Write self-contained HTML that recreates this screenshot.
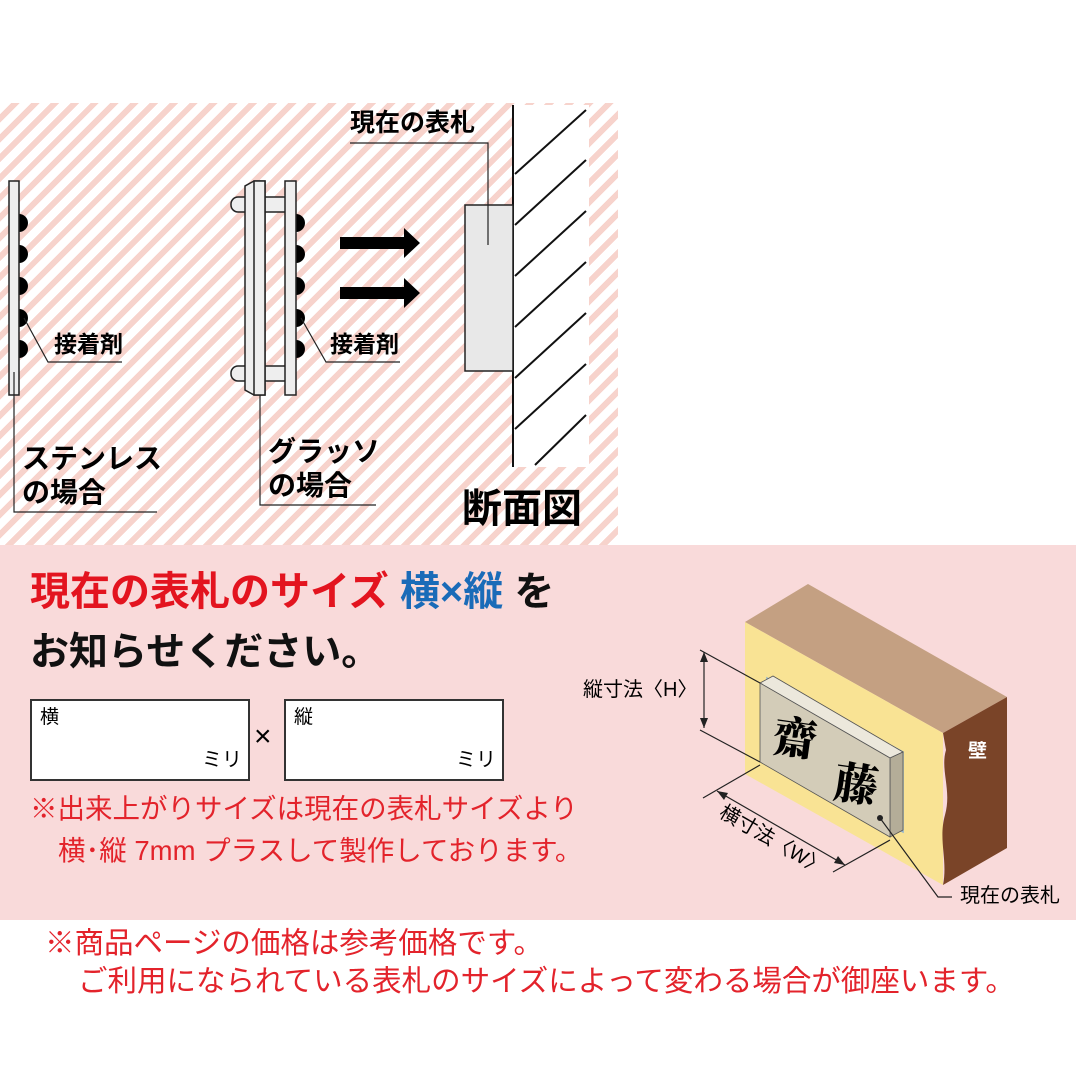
<!DOCTYPE html>
<html><head><meta charset="utf-8"><style>
html,body{margin:0;padding:0}
body{width:1076px;height:1076px;position:relative;background:#fff;overflow:hidden;font-family:"Liberation Sans","Noto Sans CJK JP",sans-serif}
.t{position:absolute;white-space:nowrap;line-height:1}
.stripes{position:absolute;left:0;top:103px;width:618px;height:442px;background:repeating-linear-gradient(135deg,#fff 0 8px,#f7d3cc 8px 14px)}
.pink{position:absolute;left:0;top:545px;width:1076px;height:375px;background:#f9dada}
.box{position:absolute;border:2px solid #333;background:#fff}
</style></head><body>
<div class="stripes"></div>
<div class="pink"></div>
<svg width="1076" height="1076" style="position:absolute;left:0;top:0">
<!-- stainless -->
<g fill="#000"><circle cx="19" cy="223" r="9"/><circle cx="19" cy="254" r="9"/><circle cx="19" cy="286" r="9"/><circle cx="19" cy="318" r="9"/><circle cx="19" cy="349" r="9"/></g>
<rect x="9" y="181" width="10" height="214" fill="#eee" stroke="#222" stroke-width="1.5"/>
<polyline points="24,318 48,362 122,362" fill="none" stroke="#222" stroke-width="1.2"/>
<polyline points="14,372 14,512 157,512" fill="none" stroke="#222" stroke-width="1.2"/>
<!-- glasso -->
<g fill="#eee" stroke="#222" stroke-width="1.5">
<rect x="231" y="197" width="60" height="15" rx="7"/>
<rect x="231" y="366" width="60" height="15" rx="7"/>
</g>
<g fill="#000"><circle cx="296" cy="223" r="9"/><circle cx="296" cy="254" r="9"/><circle cx="296" cy="286" r="9"/><circle cx="296" cy="318" r="9"/><circle cx="296" cy="349" r="9"/></g>
<g fill="#eee" stroke="#222" stroke-width="1.5">
<polygon points="254,181 265,181 265,395 254,395 245,390 245,186"/>
<rect x="254" y="181" width="11" height="214"/>
<rect x="285" y="181" width="11" height="214"/>
</g>
<polyline points="301,318 326,362 400,362" fill="none" stroke="#222" stroke-width="1.2"/>
<polyline points="260,395 260,505 376,505" fill="none" stroke="#222" stroke-width="1.2"/>
<!-- arrows -->
<polygon points="340,237 404,237 404,228 420,243 404,258 404,249 340,249" fill="#000"/>
<polygon points="340,287 404,287 404,278 420,293 404,308 404,299 340,299" fill="#000"/>
<!-- wall section -->
<rect x="513" y="105" width="76" height="362" fill="#fff"/>
<g stroke="#111" stroke-width="2">
<line x1="513" y1="105" x2="513" y2="467"/>
<line x1="515" y1="174" x2="586" y2="110"/>
<line x1="515" y1="225" x2="586" y2="160"/>
<line x1="515" y1="276" x2="586" y2="211"/>
<line x1="515" y1="327" x2="586" y2="262"/>
<line x1="515" y1="378" x2="586" y2="313"/>
<line x1="515" y1="429" x2="586" y2="364"/>
<line x1="535" y1="465" x2="586" y2="415"/>
</g>
<rect x="465" y="205" width="48" height="166" fill="#e8e8e8" stroke="#222" stroke-width="1.5"/>
<polyline points="488,245 488,143 350,143" fill="none" stroke="#222" stroke-width="1.2"/>
<!-- illustration -->
<polygon points="745,622 808,584 1007,697 943,733" fill="#c4a082"/>
<polygon points="745,622 943,733 943,885 745,774" fill="#f9e394"/>
<path d="M943,733 L1007,697 L1007,848 L943,885 C948,860 938,840 945,815 C952,790 940,770 946,750 Z" fill="#7a4428"/>
<polygon points="767,678 903,752 903,832 767,758" fill="#dfe9f0" stroke="#8fb3cf" stroke-width="1.5"/>
<polygon points="760,683 773,676 903,752 890,758" fill="#ece8dc" stroke="#555" stroke-width="0.8"/>
<polygon points="890,758 903,752 903,830 890,837" fill="#b4ad98" stroke="#555" stroke-width="0.8"/>
<polygon points="760,683 890,758 890,837 760,762" fill="#d3ccb8" stroke="#555" stroke-width="0.8"/>
<text x="773" y="754" font-family="Noto Serif CJK SC,serif" font-size="44" font-weight="900" transform="rotate(8 795 740)">齋</text>
<text x="834" y="800" font-family="Noto Serif CJK SC,serif" font-size="44" font-weight="900" transform="rotate(8 856 785)">藤</text>
<circle cx="880" cy="818" r="3" fill="#222"/>
<polyline points="880,818 938,897 952,897" fill="none" stroke="#222" stroke-width="1.2"/>
<g stroke="#222" stroke-width="1.2" fill="none">
<line x1="700" y1="650" x2="760" y2="683"/>
<line x1="700" y1="730" x2="760" y2="762"/>
<line x1="704" y1="652" x2="704" y2="728"/>
<line x1="760" y1="765" x2="703" y2="798"/>
<line x1="890" y1="840" x2="833" y2="872"/>
<line x1="717" y1="791" x2="845" y2="865"/>
</g>
<polygon points="704,652 700,662 708,662" fill="#222"/>
<polygon points="704,728 700,718 708,718" fill="#222"/>
<polygon points="717,791 728,793 724,800" fill="#222"/>
<polygon points="845,865 834,863 838,856" fill="#222"/>
<text x="718" y="816" font-size="20" font-family="Liberation Sans,Noto Sans CJK JP,sans-serif" transform="rotate(30 718 816)">横寸法〈W〉</text>
</svg>
<!-- labels top -->
<div class="t" style="left:54px;top:333px;font-size:23px;font-weight:bold">接着剤</div>
<div class="t" style="left:330px;top:333px;font-size:23px;font-weight:bold">接着剤</div>
<div class="t" style="left:22px;top:445px;font-size:28px;font-weight:bold">ステンレス</div>
<div class="t" style="left:22px;top:479px;font-size:28px;font-weight:bold">の場合</div>
<div class="t" style="left:268px;top:438px;font-size:28px;font-weight:bold">グラッソ</div>
<div class="t" style="left:268px;top:472px;font-size:28px;font-weight:bold">の場合</div>
<div class="t" style="left:350px;top:111px;font-size:25px;font-weight:bold">現在の表札</div>
<div class="t" style="left:462px;top:489px;font-size:40px;font-weight:bold">断面図</div>
<!-- bottom section -->
<div class="t" style="left:30px;top:572px;font-size:40px;font-weight:bold;color:#e3141f">現在の表札のサイズ <span style="color:#1a6bb8">横×縦</span> <span style="color:#111">を</span></div>
<div class="t" style="left:30px;top:633px;font-size:39px;font-weight:bold;color:#111">お知らせください。</div>
<div class="box" style="left:30px;top:699px;width:216px;height:78px"></div>
<div class="box" style="left:284px;top:699px;width:216px;height:78px"></div>
<div class="t" style="left:40px;top:708px;font-size:19px">横</div>
<div class="t" style="left:294px;top:708px;font-size:19px">縦</div>
<div class="t" style="left:202px;top:750px;font-size:20px">ミリ</div>
<div class="t" style="left:456px;top:750px;font-size:20px">ミリ</div>
<div class="t" style="left:254px;top:722px;font-size:30px">×</div>
<div class="t" style="left:30px;top:795px;font-size:27.5px;color:#e3232b">※出来上がりサイズは現在の表札サイズより</div>
<div class="t" style="left:58px;top:837px;font-size:27.5px;color:#e3232b">横･縦 7mm プラスして製作しております。</div>
<div class="t" style="left:583px;top:680px;font-size:20px">縦寸法〈H〉</div>
<div class="t" style="left:968px;top:742px;font-size:19px;color:#fff;font-weight:bold">壁</div>
<div class="t" style="left:960px;top:886px;font-size:20px">現在の表札</div>
<div class="t" style="left:45px;top:929px;font-size:29.5px;color:#e3232b">※商品ページの価格は参考価格です。</div>
<div class="t" style="left:78px;top:967px;font-size:29.5px;color:#e3232b">ご利用になられている表札のサイズによって変わる場合が御座います。</div>
</body></html>
